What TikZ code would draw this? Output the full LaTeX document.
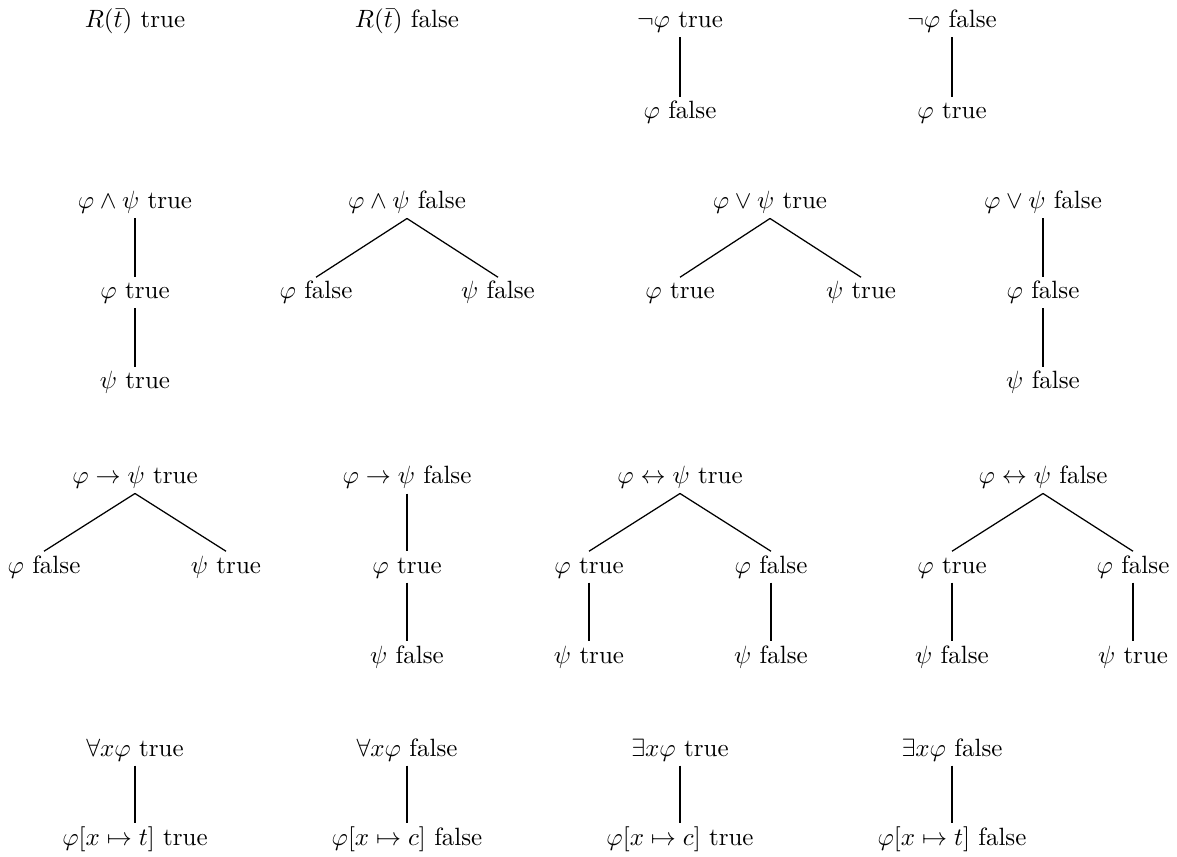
\documentclass[tikz,border=0pt]{standalone}
\usepackage{amsmath,amssymb}
\begin{document}
\begin{tikzpicture}[x=0.4pt,y=-0.4pt,
  lbl/.style={anchor=base,inner xsep=1pt,inner ysep=1.6pt,text height=6.9pt,text depth=2pt,font=\fontsize{10}{12}\selectfont},
  solo/.style={anchor=base,inner sep=1pt,font=\fontsize{10}{12}\selectfont},
  edge/.style={draw,line width=0.5pt}]
\useasboundingbox (0,0) rectangle (1177,857);
% Row 1
\node[solo] (Rt) at (135,28) {$R(\bar t)$ true};
\node[solo] (Rf) at (407,28) {$R(\bar t)$ false};
\node[lbl] (NT) at (680,28) {$\neg\varphi$ true};
\node[lbl] (NT1) at (680,119) {$\varphi$ false};
\node[lbl] (NF) at (952,28) {$\neg\varphi$ false};
\node[lbl] (NF1) at (952,119) {$\varphi$ true};
\draw[edge] (NT.south) -- (NT1.north);
\draw[edge] (NF.south) -- (NF1.north);
% Row 2
\node[lbl] (AT) at (135,209) {$\varphi\wedge\psi$ true};
\node[lbl] (AT1) at (135,299) {$\varphi$ true};
\node[lbl] (AT2) at (135,389) {$\psi$ true};
\draw[edge] (AT.south) -- (AT1.north);
\draw[edge] (AT1.south) -- (AT2.north);
\node[lbl] (AF) at (407,209) {$\varphi\wedge\psi$ false};
\node[lbl] (AF1) at (316,299) {$\varphi$ false};
\node[lbl] (AF2) at (498,299) {$\psi$ false};
\draw[edge] (AF.south) -- (AF1.north);
\draw[edge] (AF.south) -- (AF2.north);
\node[lbl] (OT) at (770,209) {$\varphi\vee\psi$ true};
\node[lbl] (OT1) at (680,299) {$\varphi$ true};
\node[lbl] (OT2) at (861,299) {$\psi$ true};
\draw[edge] (OT.south) -- (OT1.north);
\draw[edge] (OT.south) -- (OT2.north);
\node[lbl] (OF) at (1043,209) {$\varphi\vee\psi$ false};
\node[lbl] (OF1) at (1043,299) {$\varphi$ false};
\node[lbl] (OF2) at (1043,389) {$\psi$ false};
\draw[edge] (OF.south) -- (OF1.north);
\draw[edge] (OF1.south) -- (OF2.north);
% Row 3
\node[lbl] (IT) at (135,484) {$\varphi\to\psi$ true};
\node[lbl] (IT1) at (44,573) {$\varphi$ false};
\node[lbl] (IT2) at (226,573) {$\psi$ true};
\draw[edge] (IT.south) -- (IT1.north);
\draw[edge] (IT.south) -- (IT2.north);
\node[lbl] (IF) at (407,484) {$\varphi\to\psi$ false};
\node[lbl] (IF1) at (407,573) {$\varphi$ true};
\node[lbl] (IF2) at (407,663) {$\psi$ false};
\draw[edge] (IF.south) -- (IF1.north);
\draw[edge] (IF1.south) -- (IF2.north);
\node[lbl] (ET) at (680,484) {$\varphi\leftrightarrow\psi$ true};
\node[lbl] (ET1) at (589,573) {$\varphi$ true};
\node[lbl] (ET2) at (771,573) {$\varphi$ false};
\node[lbl] (ET3) at (589,663) {$\psi$ true};
\node[lbl] (ET4) at (771,663) {$\psi$ false};
\draw[edge] (ET.south) -- (ET1.north);
\draw[edge] (ET.south) -- (ET2.north);
\draw[edge] (ET1.south) -- (ET3.north);
\draw[edge] (ET2.south) -- (ET4.north);
\node[lbl] (EF) at (1043,484) {$\varphi\leftrightarrow\psi$ false};
\node[lbl] (EF1) at (952,573) {$\varphi$ true};
\node[lbl] (EF2) at (1133,573) {$\varphi$ false};
\node[lbl] (EF3) at (952,663) {$\psi$ false};
\node[lbl] (EF4) at (1133,663) {$\psi$ true};
\draw[edge] (EF.south) -- (EF1.north);
\draw[edge] (EF.south) -- (EF2.north);
\draw[edge] (EF1.south) -- (EF3.north);
\draw[edge] (EF2.south) -- (EF4.north);
% Row 4
\node[lbl] (UT) at (135,756) {$\forall x\varphi$ true};
\node[lbl] (UT1) at (135,845) {$\varphi[x\mapsto t]$ true};
\draw[edge] (UT.south) -- (UT1.north);
\node[lbl] (UF) at (407,756) {$\forall x\varphi$ false};
\node[lbl] (UF1) at (407,845) {$\varphi[x\mapsto c]$ false};
\draw[edge] (UF.south) -- (UF1.north);
\node[lbl] (XT) at (680,756) {$\exists x\varphi$ true};
\node[lbl] (XT1) at (680,845) {$\varphi[x\mapsto c]$ true};
\draw[edge] (XT.south) -- (XT1.north);
\node[lbl] (XF) at (952,756) {$\exists x\varphi$ false};
\node[lbl] (XF1) at (952,845) {$\varphi[x\mapsto t]$ false};
\draw[edge] (XF.south) -- (XF1.north);
\end{tikzpicture}
\end{document}
